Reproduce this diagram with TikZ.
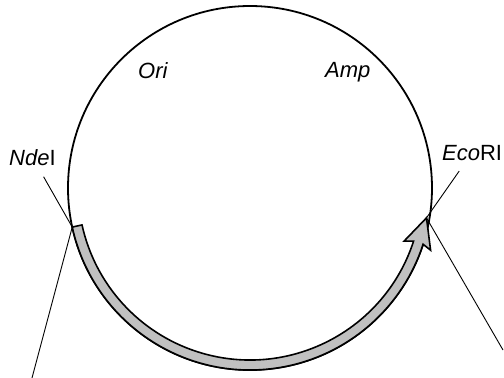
\documentclass[tikz,border=0pt]{standalone}
\usepackage{fontspec}
\setmainfont{Liberation Sans}
\usepackage{xcolor}
\definecolor{Silver}{HTML}{C0C0C0}
\usetikzlibrary{calc}

\begin{document}
\begin{tikzpicture}[x=1pt, y=1pt,
  backbone/.style={circle, draw=black, line width=1.8pt, minimum size=364pt, inner sep=0pt},
  orf/.style={draw=black, fill=#1, line width=1.6pt, line join=miter},
  lbl/.style={font=\fontsize{22}{26}\selectfont, inner sep=0pt, anchor=base west},
  pointer/.style={draw=black, line width=0.9pt},
]
\useasboundingbox (-250,-190) rectangle (254,188);

%% -- Plasmid backbone ------------------------------------------
\node[backbone] at (0,0) (pl) {};

\coordinate (nde) at (192.4:182);
\coordinate (eco) at (350.4:179);
\coordinate (ndeEnd) at (-218,-190);
\coordinate (ecoEnd) at (253,-162);

%% -- Insert (arrow band) ---------------------------------------
\path[orf=Silver] (nde) arc[start angle=192.4, end angle=342, radius=182]
  -- (341:191) -- (eco) -- (341:163) -- (342:172)
  arc[start angle=342, end angle=192.4, radius=172] -- cycle;

%% -- Labels ----------------------------------------------------
\node[lbl] at (-241,23) (ndeL) {\textit{Nde}I};
\node[lbl] at (192,28) (ecoL) {\textit{Eco}RI};
\node[lbl] at (-112,110) (ori) {\textit{Ori}};
\node[lbl] at (75,111) (amp) {\textit{Amp}};

%% Pointers
\draw[pointer, shorten <=13pt] (ndeL) -- (nde);
\draw[pointer, shorten <=13pt] (ecoL) -- (eco);
\draw[pointer] (nde) -- (ndeEnd);
\draw[pointer] (eco) -- (ecoEnd);

\end{tikzpicture}
\end{document}
